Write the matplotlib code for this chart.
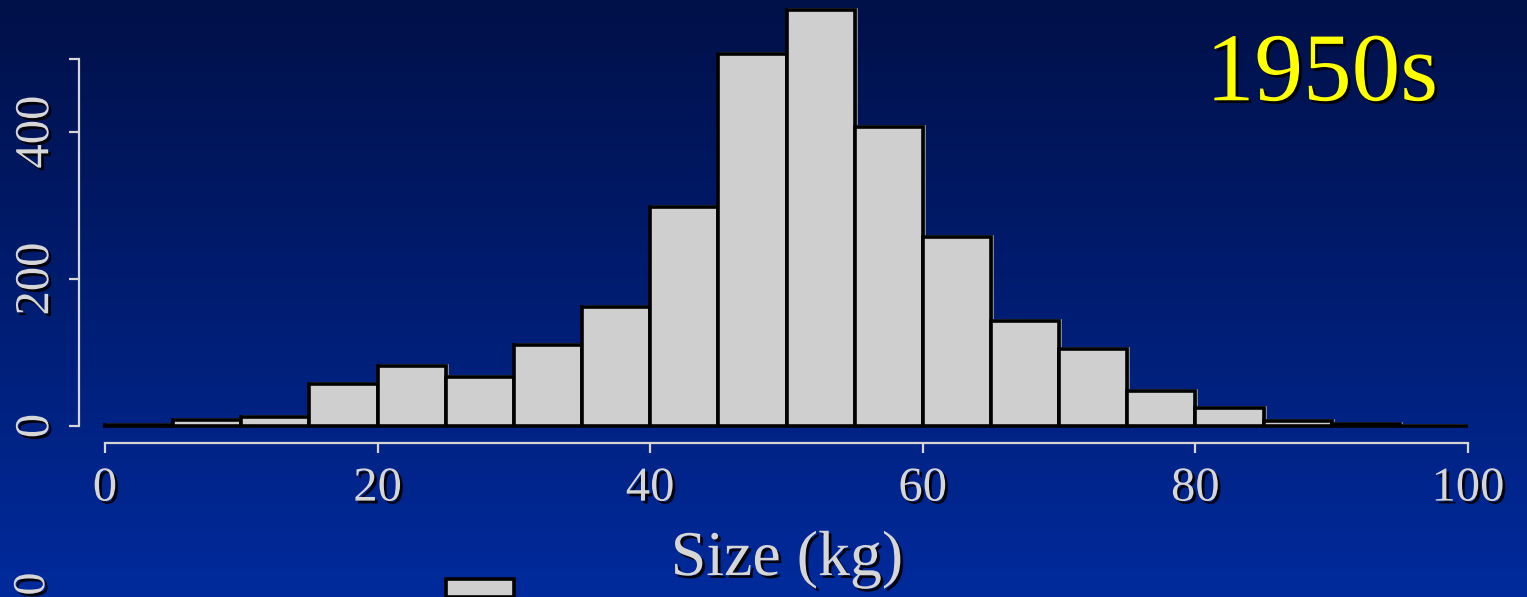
import numpy as np
import matplotlib
matplotlib.use("Agg")
import matplotlib.pyplot as plt
import matplotlib.patheffects as pe
import matplotlib.transforms as mtransforms

# ---- data ----
bin_edges = list(range(0, 101, 5))
counts = [1, 8, 12, 57, 82, 66, 110, 162, 298, 506, 566, 407, 257, 143, 105, 47, 25, 7, 3, 0]
y_ticks = [0, 200, 400, 500]
y_tick_labels = ["0", "200", "400", ""]
x_ticks = [0, 20, 40, 60, 80, 100]
x_tick_labels = ["0", "20", "40", "60", "80", "100"]
title_text = "1950s"
x_label = "Size (kg)"
# lower panel (mostly cut off): only one bar top visible
lower_bin_left = [25]
lower_bin_height = [0.67]

W, H = 1527, 597
fig = plt.figure(figsize=(W / 100, H / 100), dpi=100)
PX = 72 / 100  # points per pixel

# background gradient
bg = fig.add_axes([0, 0, 1, 1], zorder=-10)
top = np.array([0, 16, 72]) / 255
bot = np.array([0, 42, 156]) / 255
t = np.linspace(0, 1, 256)[:, None]
grad = top[None, :] * (1 - t) + bot[None, :] * t
bg.imshow(grad[:, None, :].repeat(2, axis=1), aspect="auto", extent=[0, 1, 0, 1])
bg.axis("off")

serif = "Liberation Serif"
light = "#d6d6d6"
shadow = [pe.withSimplePatchShadow(offset=(2, -2), shadow_rgbFace="black", alpha=0.9)]

# main axes
ax = fig.add_axes([105 / W, (H - 426) / H, 1363 / W, 426.3 / H])
ax.patch.set_alpha(0)
ax.set_xlim(0, 100)
ax.set_ylim(0, 580)

lefts = bin_edges[:-1]
widths = np.diff(bin_edges)
# faint gray shadow outline
ax.bar(lefts, counts, width=widths, align="edge", color="none",
       edgecolor="#9a9a9a", linewidth=1.2, zorder=2,
       transform=ax.transData + mtransforms.ScaledTranslation(2 / 100, 1 / 100, fig.dpi_scale_trans))
ax.bar(lefts, counts, width=widths, align="edge", color="#cfcfcf",
       edgecolor="black", linewidth=2.6, zorder=3, clip_on=False)

for s in ["top", "right"]:
    ax.spines[s].set_visible(False)
ax.spines["left"].set_position(("outward", 26 * PX))
ax.spines["bottom"].set_position(("outward", 17 * PX))
ax.spines["left"].set_bounds(0, 500)
ax.spines["bottom"].set_bounds(0, 100)
for s in ["left", "bottom"]:
    ax.spines[s].set_color(light)
    ax.spines[s].set_linewidth(1.6)

ax.set_yticks(y_ticks)
ax.set_yticklabels(y_tick_labels, rotation=90, va="center")
ax.set_xticks(x_ticks)
ax.set_xticklabels(x_tick_labels)
ax.tick_params(colors=light, width=1.6, length=7, labelsize=35)
ax.tick_params(axis="y", pad=8)
ax.tick_params(axis="x", pad=10)
for lab in ax.get_xticklabels() + ax.get_yticklabels():
    lab.set_family(serif)
    lab.set_color(light)
    lab.set_path_effects(shadow)

fig.text(787 / W, 1 - 560 / H, x_label, ha="center", va="center", fontsize=46,
         family=serif, color=light, path_effects=shadow)
fig.text(1322 / W, 1 - 77 / H, title_text, ha="center", va="center", fontsize=70,
         family=serif, color="#ffff00", path_effects=shadow)

# lower panel fragment
ax2 = fig.add_axes([105 / W, 0, 1363 / W, 27 / H])
ax2.patch.set_alpha(0)
ax2.set_xlim(0, 100)
ax2.set_ylim(0, 1)
ax2.bar(lower_bin_left, lower_bin_height, width=5, align="edge", color="#cfcfcf",
        edgecolor="black", linewidth=2.6)
ax2.axis("off")
fig.text(33 / W, 1 - 584 / H, "0", rotation=90, ha="center", va="center", fontsize=33,
         family=serif, color=light, path_effects=shadow)

fig.savefig("out.png", dpi=100)
